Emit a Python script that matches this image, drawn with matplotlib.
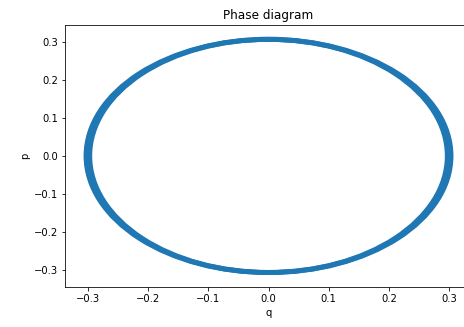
"""Phase diagram: closed orbit in (q, p), drawn as two near-coincident loops."""
import matplotlib
matplotlib.use("Agg")
import matplotlib.pyplot as plt
from matplotlib.patches import Ellipse

# amplitudes (orbit drifts slightly in q at the turning points)
q_amp = [0.303, 0.297]
p_amp = [0.307, 0.307]

fig = plt.figure(figsize=(464 / 72, 327 / 72), dpi=72)
ax = fig.add_axes([0.1401, 0.1214, 0.8772, 0.8036])
for qa, pa in zip(q_amp, p_amp):
    ax.add_patch(Ellipse((0, 0), 2 * qa, 2 * pa, fill=False,
                         edgecolor="#1f77b4", lw=5))
ax.set_xlim(-0.338, 0.338)
ax.set_ylim(-0.346, 0.346)
ax.set_xlabel("q")
ax.set_ylabel("p")
ax.set_title("Phase diagram")
fig.savefig("out.png", dpi=72)
